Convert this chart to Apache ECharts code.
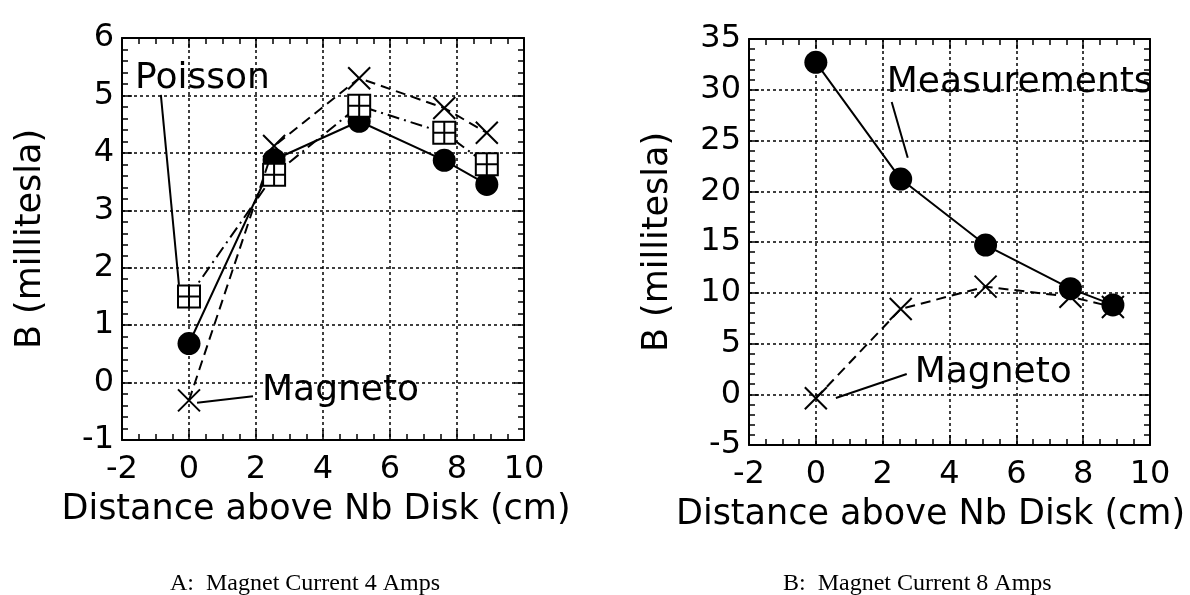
<!DOCTYPE html>
<html>
<head>
<meta charset="utf-8">
<script src="https://cdn.jsdelivr.net/npm/echarts@6/dist/echarts.min.js"></script>
<style>
  html, body { margin: 0; padding: 0; background: #fff; }
  #chart { width: 1190px; height: 595px; }
</style>
</head>
<body>
<div id="chart"></div>
<script>
// distances above the disk (cm), same for both panels
const distances = [0, 2.54, 5.08, 7.62, 8.89]

// panel A: magnet current 4 A
const aMeasured = [0.68, 3.88, 4.55, 3.87, 3.45]
const aPoisson = [1.5, 3.62, 4.82, 4.35, 3.8]
const aMagneto = [-0.31, 4.12, 5.3, 4.78, 4.35]

// panel B: magnet current 8 A
const bMeasured = [32.7, 21.2, 14.7, 10.4, 8.8]
const bMagneto = [-0.4, 8.4, 10.6, 9.6, 8.6]

// annotation leaders and label anchors, in data units
const aPoissonLeader = [[-0.84, 5.01], [-0.3, 1.7]]
const aMagnetoLeader = [[0.24, -0.35], [1.91, -0.24]]
const bMeasLeader = [[2.27, 28.8], [2.75, 23.3]]
const bMagnetoLeader = [[0.6, -0.37], [2.72, 2.0]]
const aPoissonLabel = [-1.61, 5.3]
const aMagnetoLabel = [2.18, -0.14]
const bMeasLabel = [2.12, 30.74]
const bMagnetoLabel = [2.96, 2.14]

const xTitle = 'Distance above Nb Disk (cm)'
const yTitle = 'B (millitesla)'
const captions = ['A:  Magnet Current 4 Amps', 'B:  Magnet Current 8 Amps']

const FONT = 'DejaVu Sans'
const boxSymbol = 'path://M0,0H10V10H0Z M5,0V10 M0,5H10'
const crossSymbol = 'path://M0,0L10,10 M10,0L0,10'

function pairs(xs, ys) {
  return xs.map((x, i) => [x, ys[i]])
}

function xAxisFor(gridIndex, top) {
  return {
    type: 'value',
    gridIndex: gridIndex,
    position: top ? 'top' : 'bottom',
    min: -2,
    max: 10,
    interval: 2,
    name: top ? '' : xTitle,
    nameLocation: 'middle',
    nameGap: 52,
    nameTextStyle: {
      fontFamily: FONT,
      fontSize: 35,
      color: '#000',
      padding: gridIndex === 0 ? [0, 14, 0, 0] : [0, 38, 0, 0]
    },
    axisLine: { show: true, onZero: false, lineStyle: { color: '#000', width: 2 } },
    axisTick: { show: true, inside: true, length: 10, lineStyle: { color: '#000', width: 1.5 } },
    minorTick: { show: true, splitNumber: 4, length: 6, lineStyle: { color: '#000', width: 1.5 } },
    axisLabel: {
      show: !top,
      margin: 14,
      fontFamily: FONT,
      fontSize: 32,
      color: '#000'
    },
    splitLine: {
      show: !top,
      lineStyle: { color: '#000', width: 1.5, type: [3, 3] }
    }
  }
}

function yAxisFor(gridIndex, right, min, max, interval) {
  return {
    type: 'value',
    gridIndex: gridIndex,
    position: right ? 'right' : 'left',
    min: min,
    max: max,
    interval: interval,
    name: right ? '' : yTitle,
    nameLocation: 'middle',
    nameGap: 74,
    nameTextStyle: { fontFamily: FONT, fontSize: 35, color: '#000' },
    axisLine: { show: true, onZero: false, lineStyle: { color: '#000', width: 2 } },
    axisTick: { show: true, inside: true, length: 10, lineStyle: { color: '#000', width: 1.5 } },
    minorTick: { show: true, splitNumber: 5, length: 6, lineStyle: { color: '#000', width: 1.5 } },
    axisLabel: {
      show: !right,
      margin: 8,
      fontFamily: FONT,
      fontSize: 32,
      color: '#000'
    },
    splitLine: {
      show: !right,
      lineStyle: { color: '#000', width: 1.5, type: [3, 3] }
    }
  }
}

function dataLine(grid, data, type, symbol, size, fill, z) {
  return {
    type: 'line',
    xAxisIndex: grid * 2,
    yAxisIndex: grid * 2,
    data: data,
    symbol: symbol,
    symbolSize: size,
    showAllSymbol: true,
    z: z,
    lineStyle: { color: '#000', width: 2, type: type },
    itemStyle: { color: fill, borderColor: '#000', borderWidth: symbol === 'circle' ? 0 : 2 },
    silent: true
  }
}

function leader(grid, data) {
  return {
    type: 'line',
    xAxisIndex: grid * 2,
    yAxisIndex: grid * 2,
    data: data,
    symbol: 'none',
    clip: false,
    z: 5,
    lineStyle: { color: '#000', width: 2 },
    silent: true
  }
}

function note(grid, point, text) {
  return {
    type: 'scatter',
    xAxisIndex: grid * 2,
    yAxisIndex: grid * 2,
    data: [point],
    symbolSize: 0,
    clip: false,
    z: 6,
    itemStyle: { opacity: 1 },
    label: {
      show: true,
      position: 'right',
      distance: 0,
      formatter: text,
      fontFamily: FONT,
      fontSize: 36,
      color: '#000'
    },
    silent: true
  }
}

const chart = echarts.init(document.getElementById('chart'))

chart.setOption({
  backgroundColor: '#fff',
  animation: false,
  title: [
    {
      text: captions[0],
      left: 165,
      top: 567,
      textStyle: { fontFamily: 'Liberation Serif', fontSize: 24, fontWeight: 'normal', color: '#000' }
    },
    {
      text: captions[1],
      left: 778,
      top: 567,
      textStyle: { fontFamily: 'Liberation Serif', fontSize: 24, fontWeight: 'normal', color: '#000' }
    }
  ],
  grid: [
    { left: 122, top: 38, width: 402, height: 402 },
    { left: 749, top: 39, width: 401, height: 406 }
  ],
  xAxis: [
    xAxisFor(0, false), xAxisFor(0, true),
    xAxisFor(1, false), xAxisFor(1, true)
  ],
  yAxis: [
    yAxisFor(0, false, -1, 6, 1), yAxisFor(0, true, -1, 6, 1),
    yAxisFor(1, false, -5, 35, 5), yAxisFor(1, true, -5, 35, 5)
  ],
  series: [
    dataLine(0, pairs(distances, aMeasured), 'solid', 'circle', 23, '#000', 2),
    dataLine(0, pairs(distances, aPoisson), [12, 5, 2, 5], boxSymbol, 22, '#fff', 3),
    dataLine(0, pairs(distances, aMagneto), [10, 6], crossSymbol, 22, 'none', 4),
    leader(0, aPoissonLeader),
    leader(0, aMagnetoLeader),
    note(0, aPoissonLabel, 'Poisson'),
    note(0, aMagnetoLabel, 'Magneto'),

    dataLine(1, pairs(distances, bMeasured), 'solid', 'circle', 23, '#000', 2),
    dataLine(1, pairs(distances, bMagneto), [10, 6], crossSymbol, 22, 'none', 4),
    leader(1, bMeasLeader),
    leader(1, bMagnetoLeader),
    note(1, bMeasLabel, 'Measurements'),
    note(1, bMagnetoLabel, 'Magneto')
  ]
})
</script>
</body>
</html>
